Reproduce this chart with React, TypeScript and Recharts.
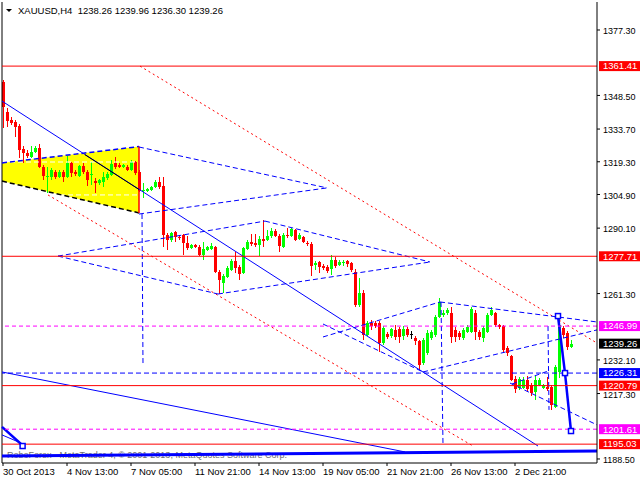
import React from 'react';
import {
  ComposedChart,
  Bar,
  XAxis,
  YAxis,
  ReferenceLine,
  ReferenceArea,
  Scatter,
} from 'recharts';

// H4 candles, one per bar index
const opens = [
  1354.4, 1341.2, 1337.7, 1336.8, 1335.0, 1324.9, 1323.2, 1321.4, 1323.6, 1325.4,
  1317.0, 1312.6, 1312.6, 1314.8, 1312.6, 1314.8, 1312.6, 1318.8, 1314.8, 1313.0,
  1317.4, 1314.8, 1313.5, 1310.8, 1309.9, 1310.4, 1312.2, 1313.5, 1318.8, 1317.9,
  1317.0, 1317.0, 1315.7, 1319.2, 1314.8, 1306.4, 1306.4, 1306.9, 1308.2, 1310.4,
  1308.6, 1287.1, 1284.9, 1288.4, 1286.2, 1287.1, 1283.6, 1281.4, 1282.7, 1281.8,
  1278.3, 1280.5, 1280.9, 1281.8, 1270.8, 1266.0, 1268.6, 1271.7, 1275.6, 1273.0,
  1270.4, 1280.9, 1284.0, 1283.6, 1282.7, 1285.3, 1284.9, 1286.6, 1288.8, 1286.6,
  1281.8, 1287.1, 1286.6, 1289.3, 1285.3, 1286.2, 1283.6, 1283.1, 1273.9, 1275.2,
  1273.4, 1273.0, 1272.1, 1276.1, 1273.9, 1274.8, 1275.6, 1274.8, 1270.8, 1256.3,
  1261.6, 1243.1, 1248.3, 1248.3, 1248.3, 1239.5, 1243.5, 1242.6, 1245.3, 1245.7,
  1242.6, 1245.7, 1243.5, 1241.7, 1240.4, 1230.7, 1235.1, 1241.7, 1243.1, 1251.0,
  1251.9, 1252.7, 1252.7, 1245.3, 1244.0, 1241.7, 1244.4, 1244.4, 1252.7, 1244.4,
  1241.7, 1244.4, 1251.9, 1252.7, 1247.5, 1247.0, 1237.3, 1233.8, 1223.7, 1219.7,
  1219.7, 1223.3, 1221.1, 1218.0, 1221.1, 1219.7, 1220.2, 1220.2, 1211.4, 1226.8,
  1246.2, 1244.0, 1237.8,
];
const highs = [
  1355.3, 1343.0, 1339.0, 1337.7, 1335.9, 1326.2, 1324.5, 1326.2, 1326.2, 1327.1,
  1317.9, 1317.0, 1316.6, 1315.7, 1315.7, 1315.7, 1321.8, 1319.2, 1315.7, 1317.9,
  1318.8, 1315.7, 1319.2, 1312.2, 1311.7, 1314.8, 1314.8, 1320.1, 1321.4, 1318.8,
  1318.3, 1317.9, 1320.1, 1319.6, 1315.7, 1309.9, 1307.8, 1308.6, 1311.3, 1312.6,
  1312.6, 1288.0, 1288.4, 1288.8, 1287.1, 1287.5, 1286.6, 1283.1, 1283.1, 1282.7,
  1284.0, 1282.2, 1283.6, 1282.2, 1271.7, 1269.9, 1273.4, 1276.5, 1279.6, 1273.9,
  1281.8, 1284.9, 1287.5, 1287.5, 1286.6, 1293.7, 1289.3, 1290.2, 1289.7, 1287.5,
  1288.0, 1290.2, 1290.2, 1289.7, 1288.0, 1286.6, 1284.4, 1284.0, 1275.6, 1275.6,
  1274.3, 1273.9, 1278.3, 1277.4, 1276.1, 1276.1, 1276.1, 1275.2, 1272.1, 1268.2,
  1262.9, 1249.2, 1249.7, 1249.2, 1249.2, 1247.0, 1244.4, 1246.2, 1247.5, 1246.6,
  1247.0, 1246.6, 1244.8, 1242.6, 1240.9, 1241.7, 1245.3, 1245.3, 1251.9, 1259.3,
  1254.1, 1254.9, 1255.4, 1246.6, 1244.8, 1246.2, 1247.5, 1255.4, 1254.1, 1245.3,
  1247.0, 1252.7, 1255.4, 1253.2, 1247.9, 1247.5, 1238.2, 1234.3, 1225.0, 1224.6,
  1224.6, 1225.0, 1221.9, 1225.0, 1224.2, 1221.5, 1224.6, 1221.1, 1229.9, 1251.0,
  1247.0, 1244.8, 1240.9,
];
const lows = [
  1334.2, 1334.6, 1335.5, 1330.2, 1321.0, 1318.8, 1321.0, 1321.0, 1323.2, 1316.6,
  1311.3, 1305.6, 1311.3, 1311.7, 1312.2, 1310.4, 1312.2, 1312.6, 1313.0, 1312.6,
  1313.9, 1308.6, 1309.1, 1305.6, 1309.1, 1308.2, 1311.3, 1313.0, 1316.1, 1316.6,
  1316.6, 1315.2, 1315.2, 1313.5, 1306.0, 1303.4, 1306.0, 1306.4, 1307.8, 1307.3,
  1281.8, 1280.5, 1284.0, 1284.0, 1284.9, 1278.3, 1280.5, 1280.9, 1281.4, 1277.8,
  1276.1, 1280.0, 1280.5, 1270.4, 1261.1, 1261.6, 1268.2, 1271.2, 1270.4, 1267.3,
  1269.9, 1280.5, 1282.2, 1281.8, 1277.8, 1281.8, 1284.4, 1285.8, 1286.2, 1279.6,
  1281.4, 1285.8, 1286.2, 1284.4, 1284.9, 1283.6, 1282.2, 1269.0, 1271.7, 1270.4,
  1271.7, 1270.4, 1269.5, 1272.6, 1273.4, 1273.4, 1273.0, 1270.8, 1255.4, 1255.4,
  1240.9, 1242.6, 1245.3, 1246.2, 1235.6, 1238.7, 1241.3, 1241.7, 1240.9, 1239.5,
  1240.9, 1242.2, 1241.3, 1238.7, 1227.7, 1229.9, 1234.3, 1240.9, 1242.2, 1250.5,
  1251.0, 1251.9, 1239.5, 1240.0, 1240.9, 1240.9, 1244.0, 1244.0, 1240.9, 1240.9,
  1240.0, 1244.0, 1251.4, 1246.6, 1245.7, 1235.1, 1233.8, 1222.8, 1217.5, 1218.9,
  1219.3, 1218.0, 1216.2, 1214.5, 1220.6, 1219.3, 1218.4, 1210.1, 1211.0, 1224.2,
  1241.7, 1236.5, 1237.3,
];
const closes = [
  1343.4, 1337.2, 1336.4, 1334.6, 1324.5, 1323.2, 1321.8, 1323.6, 1325.4, 1317.0,
  1313.0, 1313.0, 1315.7, 1312.6, 1314.8, 1312.6, 1318.8, 1314.4, 1313.9, 1317.4,
  1314.8, 1311.3, 1313.9, 1309.9, 1311.3, 1312.6, 1313.9, 1318.3, 1317.0, 1317.0,
  1317.9, 1315.7, 1319.2, 1314.4, 1306.4, 1306.9, 1307.3, 1308.2, 1310.4, 1308.2,
  1287.1, 1284.9, 1288.0, 1286.2, 1285.8, 1283.6, 1281.4, 1282.7, 1281.8, 1278.3,
  1280.9, 1281.8, 1282.2, 1270.8, 1267.3, 1269.0, 1272.6, 1275.6, 1272.6, 1269.9,
  1281.4, 1284.0, 1283.1, 1282.7, 1285.3, 1284.4, 1286.6, 1288.8, 1286.6, 1282.2,
  1287.1, 1286.6, 1289.7, 1284.9, 1287.1, 1284.0, 1283.1, 1273.4, 1274.8, 1273.0,
  1272.6, 1271.2, 1276.1, 1273.4, 1275.2, 1275.2, 1274.3, 1271.7, 1256.3, 1261.6,
  1243.1, 1248.3, 1247.0, 1247.0, 1239.5, 1246.2, 1242.2, 1245.7, 1242.2, 1242.2,
  1245.7, 1243.1, 1243.5, 1240.4, 1229.9, 1240.9, 1244.0, 1244.4, 1251.0, 1257.6,
  1252.7, 1254.1, 1242.2, 1242.2, 1242.2, 1245.3, 1246.6, 1254.5, 1244.4, 1242.2,
  1246.2, 1251.9, 1254.1, 1247.5, 1246.6, 1236.5, 1235.1, 1223.3, 1219.3, 1223.7,
  1223.3, 1219.3, 1217.5, 1223.3, 1223.3, 1221.1, 1219.3, 1212.3, 1229.0, 1247.5,
  1243.1, 1237.8, 1239.26,
];

const dateTicks = [0, 16, 32, 48, 64, 80, 96, 112, 128];
const dateLabels = [
  '30 Oct 2013', '4 Nov 13:00', '7 Nov 05:00', '11 Nov 21:00', '14 Nov 13:00',
  '19 Nov 05:00', '21 Nov 21:00', '26 Nov 13:00', '2 Dec 21:00',
];
// scale labels that are not hidden behind a price tag
const priceTicks = [
  1377.3, 1348.5, 1333.7, 1319.3, 1304.9, 1290.1, 1261.3,
  1232.1, 1217.3, 1188.5,
];

const redLevels = [1361.41, 1277.71, 1220.79, 1195.03];
const magentaLevels = [1246.99, 1201.61];
const blueLevels = [1226.31];
const bidPrice = 1239.26;
const ohlcTitle = [1238.26, 1239.96, 1236.3, 1239.26];

// trend objects: [bar1, price1, bar2, price2]
const redDotted = [
  [34.25, 1361.41, 148.5, 1239.5],
  [11.25, 1304.7, 117.5, 1194.2],
];
const blueSolid = [
  [-0.25, 1346.0, 133.75, 1194.2],
  [-0.25, 1226.8, 100.5, 1191.6],
  [-0.25, 1199.1, 4.5, 1195.5],
];
const blueThick = [
  [-0.25, 1189.8, 148.5, 1192.0],
  [-0.25, 1202.6, 4.5, 1195.1],
];
const blueDashed = [
  [34, 1325.8, 81, 1307.8],
  [34, 1296.3, 81, 1307.8],
  [13.75, 1277.8, 65.5, 1293.2],
  [65.5, 1293.2, 106.75, 1275.2],
  [13.75, 1277.8, 53.75, 1261.1],
  [53.75, 1261.1, 106.75, 1275.2],
  [34.75, 1296.3, 35, 1229.9],
  [80, 1247.9, 105, 1226.8],
  [80, 1242.2, 109.25, 1257.6],
  [109.25, 1257.6, 148.5, 1248.8],
  [105, 1226.8, 148.5, 1245.3],
  [109.5, 1257.6, 110, 1194.7],
  [136.25, 1247.0, 136.5, 1210.1],
  [126.75, 1221.9, 148.5, 1203.5],
  [127.25, 1221.5, 136.25, 1227.2],
];
const blackSolid = [[20.5, 1322.4, 34, 1307.1]];

// yellow wedge: left edge and right edge prices (top, bottom)
const wedgeBars = [-0.25, 34];
const wedgeLeft = [1318.8, 1310.8];
const wedgeRight = [1326.0, 1296.8];
const wedgeInner = [
  [-0.25, 1319.2, 34, 1319.2],
  [14.25, 1304.7, 34, 1304.7],
];

const forecastBars = [138.75, 140.5, 142];
const forecastPrices = [1251.4, 1226.31, 1200.8];
const markerBars = [4.9];
const markerPrices = [1194.2];

const FONT = '"Liberation Sans", Arial, sans-serif';
const RED = '#FF0000';
const LIME = '#00FF00';
const BLUE = '#0000FF';
const MAGENTA = '#FF00FF';

const candles = opens.map((o, i) => ({
  i,
  open: o,
  high: highs[i],
  low: lows[i],
  close: closes[i],
}));

const squares = [
  ...forecastBars.map((b, k) => ({ i: b, p: forecastPrices[k] })),
  ...markerBars.map((b, k) => ({ i: b, p: markerPrices[k] })),
];

function CandleShape(props: any) {
  const { x, y, width, height, payload } = props;
  if (!payload) return null;
  const top = Math.min(y, y + height);
  const span = Math.abs(height);
  const { open, close, high, low } = payload;
  const toY = (v: number) => top + ((high - v) / (high - low || 1)) * span;
  const color = close > open ? LIME : close < open ? RED : '#000';
  const cx = Math.round(x + width / 2) + 0.5;
  const yo = toY(open);
  const yc = toY(close);
  const bodyTop = Math.min(yo, yc);
  const bodyH = Math.max(1, Math.abs(yc - yo));
  return (
    <g shapeRendering="crispEdges">
      <line x1={cx} x2={cx} y1={top} y2={top + span} stroke={color} />
      {color === '#000' ? (
        <line x1={cx - 1.5} x2={cx + 1.5} y1={yo} y2={yo} stroke={color} />
      ) : (
        <rect x={cx - 1.5} y={bodyTop} width={3} height={bodyH} fill={color} />
      )}
    </g>
  );
}

const priceTag = (price: number, bg: string) => (props: any) => {
  const vb = props.viewBox || {};
  const x = (vb.x ?? 2) + (vb.width ?? 595) + 2;
  const y = vb.y ?? 0;
  return (
    <g>
      <rect x={x} y={y - 5} width={640 - x} height={10} fill={bg} />
      <text x={x + 4} y={y} dy="0.35em" fill="#fff" fontSize={9.5} fontFamily={FONT}>
        {price.toFixed(2)}
      </text>
    </g>
  );
};

function WedgeShape(props: any) {
  const { x, y, width, height } = props;
  const span = wedgeRight[0] - wedgeRight[1];
  const ly = (p: number) => y + ((wedgeRight[0] - p) / span) * height;
  const pts = [
    [x, ly(wedgeLeft[0])],
    [x + width, y],
    [x + width, y + height],
    [x, ly(wedgeLeft[1])],
  ];
  return <polygon points={pts.map((p) => p.join(',')).join(' ')} fill="#FFFF00" />;
}

function XTick(props: any) {
  const { x, y, payload } = props;
  const k = dateTicks.indexOf(payload.value);
  return (
    <text x={x} y={y} dy="0.71em" textAnchor="start" fontSize={9.5} fontFamily={FONT} fill="#000">
      {dateLabels[k]}
    </text>
  );
}

function YTick(props: any) {
  const { x, y, payload } = props;
  return (
    <text x={x} y={y + 1} dy="0.35em" textAnchor="start" fontSize={9} fontFamily={FONT} fill="#000">
      {Number(payload.value).toFixed(2)}
    </text>
  );
}

function SquareMark(props: any) {
  const { cx, cy } = props;
  return (
    <rect x={cx - 2.5} y={cy - 2.5} width={5} height={5} fill="#fff" stroke={BLUE} strokeWidth={1.5} />
  );
}

const seg = (s: number[], key: string, stroke: string, width: number, dash?: string) => (
  <ReferenceLine
    key={key}
    segment={[{ x: s[0], y: s[1] }, { x: s[2], y: s[3] }]}
    stroke={stroke}
    strokeWidth={width}
    strokeDasharray={dash}
    ifOverflow="visible"
  />
);

export default function App() {
  return (
    <div style={{ position: 'relative', width: 640, height: 480, background: '#fff' }}>
      <style>{'body{margin:0}'}</style>
      <svg style={{ position: 'absolute', left: 0, top: 0 }} width={20} height={20}>
        <polygon points="6,9 12,9 9,12" fill="#000" />
      </svg>
      <div
        style={{
          position: 'absolute', left: 18, top: 5, fontSize: 9.5, lineHeight: '12px',
          fontFamily: FONT, whiteSpace: 'pre', color: '#000',
        }}
      >
        {'XAUUSD,H4  ' + ohlcTitle.map((v) => v.toFixed(2)).join(' ')}
      </div>
      <div
        style={{
          position: 'absolute', left: 7, top: 449, fontSize: 9, lineHeight: '12px',
          fontFamily: FONT, whiteSpace: 'pre', color: '#707070',
        }}
      >
        RoboForex - MetaTrader 4, © 2001-2013, MetaQuotes Software Corp.
      </div>
      <ComposedChart
        width={640}
        height={480}
        data={candles}
        margin={{ top: 2, right: 0, bottom: 0, left: 2 }}
      >
        <XAxis
          type="number"
          dataKey="i"
          domain={[-0.25, 148.5]}
          allowDataOverflow
          ticks={dateTicks}
          interval={0}
          tick={XTick}
          tickSize={3}
          height={17}
          axisLine={{ stroke: '#000' }}
          tickLine={{ stroke: '#000' }}
        />
        <YAxis
          orientation="right"
          type="number"
          domain={[1186.73, 1389.62]}
          allowDataOverflow
          ticks={priceTicks}
          interval={0}
          tick={YTick}
          tickSize={3}
          tickMargin={3}
          width={43}
          axisLine={{ stroke: '#000' }}
          tickLine={{ stroke: '#000' }}
        />
        <ReferenceArea
          x1={wedgeBars[0]}
          x2={wedgeBars[1]}
          y1={wedgeRight[1]}
          y2={wedgeRight[0]}
          shape={WedgeShape}
          ifOverflow="visible"
        />
        {wedgeInner.map((s, k) => seg(s, 'wi' + k, '#fff', 1, '5 3'))}
        <Bar
          dataKey={(d: any) => [d.low, d.high]}
          shape={CandleShape}
          barSize={3}
          isAnimationActive={false}
        />
        <ReferenceLine x={-0.25} stroke="#000" ifOverflow="visible" />
        {seg([wedgeBars[0], wedgeLeft[0], wedgeBars[1], wedgeRight[0]], 'wt', BLUE, 1.5, '5 3')}
        {seg([wedgeBars[0], wedgeLeft[1], wedgeBars[1], wedgeRight[1]], 'wb', '#000', 1.5, '5 3')}
        {seg([wedgeBars[1], wedgeRight[0], wedgeBars[1], wedgeRight[1]], 'wr', RED, 1.5)}
        {redDotted.map((s, k) => seg(s, 'rd' + k, RED, 1, '2 3'))}
        {blueDashed.map((s, k) => seg(s, 'bd' + k, BLUE, 1, '5 3'))}
        {blueSolid.map((s, k) => seg(s, 'bs' + k, BLUE, 1))}
        {blackSolid.map((s, k) => seg(s, 'bk' + k, '#000', 1))}
        {blueThick.map((s, k) => seg(s, 'bt' + k, BLUE, k === 0 ? 3 : 2.5))}
        {forecastBars.slice(1).map((b, k) =>
          seg([forecastBars[k], forecastPrices[k], b, forecastPrices[k + 1]], 'fc' + k, BLUE, 2.5),
        )}
        {redLevels.map((p) => (
          <ReferenceLine key={'r' + p} y={p} stroke={RED} ifOverflow="visible" label={priceTag(p, RED)} />
        ))}
        {magentaLevels.map((p) => (
          <ReferenceLine
            key={'m' + p}
            y={p}
            stroke={MAGENTA}
            strokeDasharray="4 3"
            ifOverflow="visible"
            label={priceTag(p, MAGENTA)}
          />
        ))}
        {blueLevels.map((p) => (
          <ReferenceLine
            key={'b' + p}
            y={p}
            stroke={BLUE}
            strokeDasharray="5 3"
            ifOverflow="visible"
            label={priceTag(p, BLUE)}
          />
        ))}
        <ReferenceLine y={bidPrice} stroke="transparent" ifOverflow="visible" label={priceTag(bidPrice, '#000')} />
        <Scatter data={squares} dataKey="p" shape={SquareMark} isAnimationActive={false} />
      </ComposedChart>
    </div>
  );
}
